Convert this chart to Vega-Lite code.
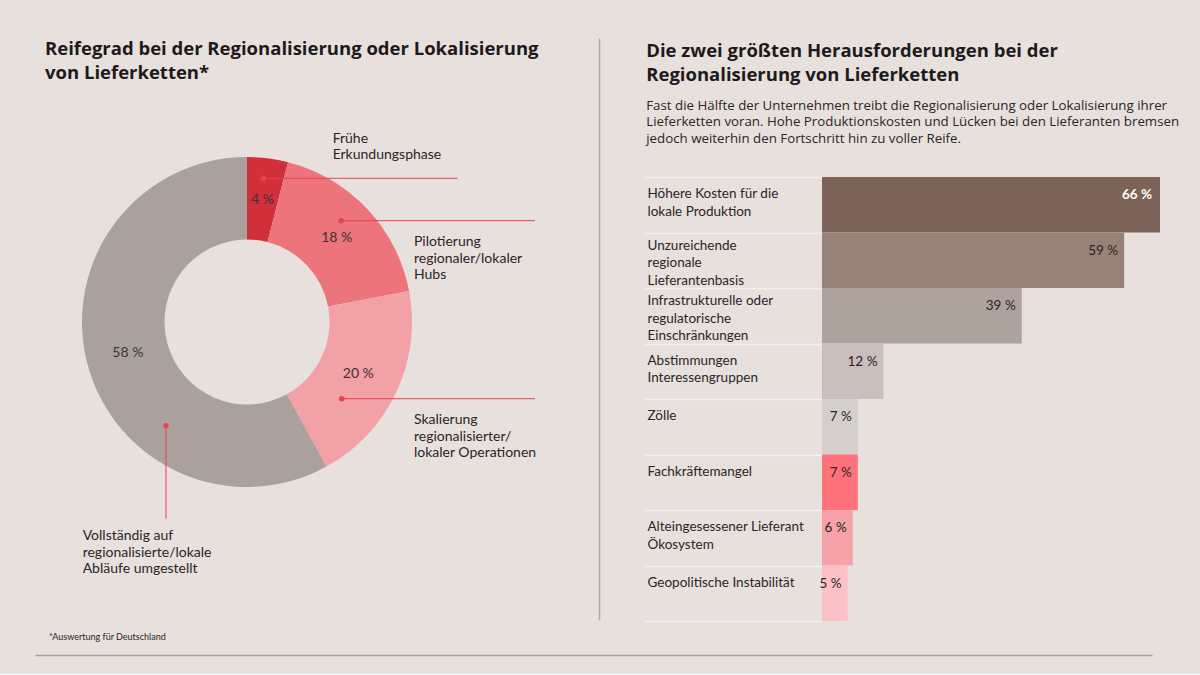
{
  "$schema": "https://vega.github.io/schema/vega-lite/v6.json",
  "background": "#e8e0dd",
  "padding": {"left": 35, "top": 38, "right": 40, "bottom": 19},
  "config": {"view": {"stroke": null}, "font": "Lato"},
  "datasets": {
    "stages": [
      {"stage": "Frühe Erkundungsphase", "value": 4, "label": "4 %", "order": 1},
      {"stage": "Pilotierung regionaler/lokaler Hubs", "value": 18, "label": "18 %", "order": 2},
      {"stage": "Skalierung regionalisierter/lokaler Operationen", "value": 20, "label": "20 %", "order": 3},
      {"stage": "Vollständig auf regionalisierte/lokale Abläufe umgestellt", "value": 58, "label": "58 %", "order": 4}
    ],
    "leaders": [
      {"text": "Frühe|Erkundungsphase", "px": 0.099, "py": 0.871, "qx": 1.277, "qy": 0.871, "lx": 0.519, "ly": 1.152},
      {"text": "Pilotierung|regionaler/lokaler|Hubs", "px": 0.570, "py": 0.614, "qx": 1.745, "qy": 0.614, "lx": 1.012, "ly": 0.525},
      {"text": "Skalierung|regionalisierter/|lokaler Operationen", "px": 0.574, "py": -0.465, "qx": 1.745, "qy": -0.465, "lx": 1.012, "ly": -0.552},
      {"text": "Vollständig auf|regionalisierte/lokale|Abläufe umgestellt", "px": -0.491, "py": -0.628, "qx": -0.491, "qy": -1.190, "lx": -0.996, "ly": -1.255}
    ],
    "challenges": [
      {"challenge": "Höhere Kosten für die|lokale Produktion", "value": 66, "label": "66 %"},
      {"challenge": "Unzureichende|regionale|Lieferantenbasis", "value": 59, "label": "59 %"},
      {"challenge": "Infrastrukturelle oder|regulatorische|Einschränkungen", "value": 39, "label": "39 %"},
      {"challenge": "Abstimmungen|Interessengruppen", "value": 12, "label": "12 %"},
      {"challenge": "Zölle", "value": 7, "label": "7 %"},
      {"challenge": "Fachkräftemangel", "value": 7, "label": "7 %"},
      {"challenge": "Alteingesessener Lieferant|Ökosystem", "value": 6, "label": "6 %"},
      {"challenge": "Geopolitische Instabilität", "value": 5, "label": "5 %"}
    ]
  },
  "spacing": 0,
  "vconcat": [
    {
      "bounds": "flush",
      "spacing": 223,
      "resolve": {"scale": {"color": "independent"}},
      "hconcat": [
        {
          "width": 564,
          "height": 582,
          "title": {
            "text": ["Reifegrad bei der Regionalisierung oder Lokalisierung", "von Lieferketten*"],
            "anchor": "start",
            "frame": "group",
            "offset": -44,
            "dx": 10,
            "font": "Open Sans",
            "fontSize": 18.5,
            "fontWeight": "bold",
            "lineHeight": 24,
            "color": "#1e1a1b"
          },
          "layer": [
            {
              "data": {"name": "stages"},
              "mark": {"type": "arc", "outerRadius": 165, "innerRadius": 82.5},
              "encoding": {
                "theta": {"field": "value", "type": "quantitative", "stack": true},
                "order": {"field": "order", "type": "quantitative"},
                "color": {
                  "field": "stage", "type": "nominal", "legend": null,
                  "scale": {
                    "domain": ["Frühe Erkundungsphase", "Pilotierung regionaler/lokaler Hubs", "Skalierung regionalisierter/lokaler Operationen", "Vollständig auf regionalisierte/lokale Abläufe umgestellt"],
                    "range": ["#d22f3c", "#ec747a", "#f2a1a7", "#aba19c"]
                  }
                },
                "x": {"datum": 0, "type": "quantitative", "scale": {"domain": [-1.2848, 2.1333], "nice": false, "zero": false}, "axis": null},
                "y": {"datum": 0, "type": "quantitative", "scale": {"domain": [-1.8061, 1.7212], "nice": false, "zero": false}, "axis": {"orient": "right", "labels": false, "ticks": false, "grid": false, "title": null, "domain": true, "domainColor": "#b3aba7", "domainWidth": 1.5}}
              }
            },
            {
              "data": {"name": "stages"},
              "mark": {"type": "text", "radius": 123, "fontSize": 14, "color": "#3a3435"},
              "encoding": {
                "theta": {"field": "value", "type": "quantitative", "stack": true},
                "order": {"field": "order", "type": "quantitative"},
                "detail": {"field": "stage"},
                "text": {"field": "label"},
                "x": {"datum": 0, "type": "quantitative", "scale": {"domain": [-1.2848, 2.1333], "nice": false, "zero": false}, "axis": null},
                "y": {"datum": 0, "type": "quantitative", "scale": {"domain": [-1.8061, 1.7212], "nice": false, "zero": false}, "axis": {"orient": "right", "labels": false, "ticks": false, "grid": false, "title": null, "domain": true, "domainColor": "#b3aba7", "domainWidth": 1.5}}
              }
            },
            {
              "data": {"name": "leaders"},
              "mark": {"type": "rule", "color": "#e8434d", "strokeWidth": 1},
              "encoding": {
                "x": {"field": "px", "type": "quantitative", "scale": {"domain": [-1.2848, 2.1333], "nice": false, "zero": false}, "axis": null},
                "y": {"field": "py", "type": "quantitative", "scale": {"domain": [-1.8061, 1.7212], "nice": false, "zero": false}, "axis": {"orient": "right", "labels": false, "ticks": false, "grid": false, "title": null, "domain": true, "domainColor": "#b3aba7", "domainWidth": 1.5}},
                "x2": {"field": "qx"},
                "y2": {"field": "qy"}
              }
            },
            {
              "data": {"name": "leaders"},
              "mark": {"type": "point", "filled": true, "size": 30, "opacity": 1, "color": "#e8434d"},
              "encoding": {
                "x": {"field": "px", "type": "quantitative", "scale": {"domain": [-1.2848, 2.1333], "nice": false, "zero": false}, "axis": null},
                "y": {"field": "py", "type": "quantitative", "scale": {"domain": [-1.8061, 1.7212], "nice": false, "zero": false}, "axis": {"orient": "right", "labels": false, "ticks": false, "grid": false, "title": null, "domain": true, "domainColor": "#b3aba7", "domainWidth": 1.5}}
              }
            },
            {
              "data": {"name": "leaders"},
              "mark": {"type": "text", "align": "left", "baseline": "top", "lineBreak": "|", "fontSize": 14, "lineHeight": 16.5, "color": "#2b2526"},
              "encoding": {
                "x": {"field": "lx", "type": "quantitative", "scale": {"domain": [-1.2848, 2.1333], "nice": false, "zero": false}, "axis": null},
                "y": {"field": "ly", "type": "quantitative", "scale": {"domain": [-1.8061, 1.7212], "nice": false, "zero": false}, "axis": {"orient": "right", "labels": false, "ticks": false, "grid": false, "title": null, "domain": true, "domainColor": "#b3aba7", "domainWidth": 1.5}},
                "text": {"field": "text"}
              }
            }
          ]
        },
        {
          "width": 338,
          "height": 583,
          "data": {"name": "challenges"},
          "title": {
            "text": ["Die zwei größten Herausforderungen bei der", "Regionalisierung von Lieferketten"],
            "subtitle": ["Fast die Hälfte der Unternehmen treibt die Regionalisierung oder Lokalisierung ihrer", "Lieferketten voran. Hohe Produktionskosten und Lücken bei den Lieferanten bremsen", "jedoch weiterhin den Fortschritt hin zu voller Reife."],
            "anchor": "start",
            "frame": "bounds",
            "offset": -107,
            "dx": 2,
            "font": "Open Sans",
            "fontSize": 18.5,
            "fontWeight": "bold",
            "lineHeight": 24,
            "color": "#1e1a1b",
            "subtitleFont": "Open Sans",
            "subtitleFontSize": 13.3,
            "subtitleLineHeight": 16.5,
            "subtitleColor": "#2b2526",
            "subtitlePadding": 14
          },
          "encoding": {
            "y": {
              "field": "challenge", "type": "nominal",
              "scale": {
                "domain": ["Höhere Kosten für die|lokale Produktion", "Unzureichende|regionale|Lieferantenbasis", "Infrastrukturelle oder|regulatorische|Einschränkungen", "Abstimmungen|Interessengruppen", "Zölle", "Fachkräftemangel", "Alteingesessener Lieferant|Ökosystem", "Geopolitische Instabilität"],
                "range": [139, 583],
                "paddingInner": 0, "paddingOuter": 0
              },
              "axis": {
                "title": null, "domain": false, "grid": false,
                "ticks": true, "tickBand": "extent", "tickSize": 177, "tickColor": "#f4f0ee", "tickWidth": 1.5,
                "labelAlign": "left", "labelBaseline": "top", "labelPadding": -2,
                "labelOffset": {"condition": {"test": "length(split(datum.label, '|')) > 2", "value": -22}, "value": -18},
                "labelExpr": "split(datum.label, '|')",
                "labelLineHeight": 17.5, "labelFontSize": 13.5, "labelFont": "Lato", "labelColor": "#2b2526", "labelLimit": 220
              }
            }
          },
          "layer": [
            {
              "mark": {"type": "bar"},
              "encoding": {
                "x": {"field": "value", "type": "quantitative", "scale": {"domain": [0, 66], "nice": false}, "axis": null},
                "color": {
                  "field": "challenge", "type": "nominal", "legend": null,
                  "scale": {
                    "domain": ["Höhere Kosten für die|lokale Produktion", "Unzureichende|regionale|Lieferantenbasis", "Infrastrukturelle oder|regulatorische|Einschränkungen", "Abstimmungen|Interessengruppen", "Zölle", "Fachkräftemangel", "Alteingesessener Lieferant|Ökosystem", "Geopolitische Instabilität"],
                    "range": ["#7c6357", "#968279", "#ada29c", "#c9bebb", "#d4cfcc", "#fe737b", "#f6a2a9", "#fbc1c6"]
                  }
                }
              }
            },
            {
              "transform": [{"filter": "datum.value < 60"}],
              "mark": {"type": "text", "align": "right", "baseline": "top", "dx": -6, "dy": -16.5, "fontSize": 13.5, "color": "#2b2526"},
              "encoding": {
                "x": {"field": "value", "type": "quantitative"},
                "text": {"field": "label"}
              }
            },
            {
              "transform": [{"filter": "datum.value >= 60"}],
              "mark": {"type": "text", "align": "right", "baseline": "top", "dx": -8, "dy": -16.5, "fontSize": 13.5, "fontWeight": "bold", "color": "#ffffff"},
              "encoding": {
                "x": {"field": "value", "type": "quantitative"},
                "text": {"field": "label"}
              }
            }
          ]
        }
      ]
    },
    {
      "width": 1117,
      "height": 33,
      "data": {"values": [{"note": "*Auswertung für Deutschland"}]},
      "mark": {"type": "text", "align": "left", "baseline": "middle", "dx": 14, "dy": -2, "fontSize": 9, "font": "Lato", "color": "#2b2526"},
      "encoding": {
        "text": {"field": "note"},
        "x": {"datum": 0, "type": "quantitative", "scale": {"domain": [0, 1]}, "axis": {"labels": false, "ticks": false, "grid": false, "title": null, "domain": true, "domainColor": "#aaa29e", "domainWidth": 1.5}}
      }
    }
  ]
}
